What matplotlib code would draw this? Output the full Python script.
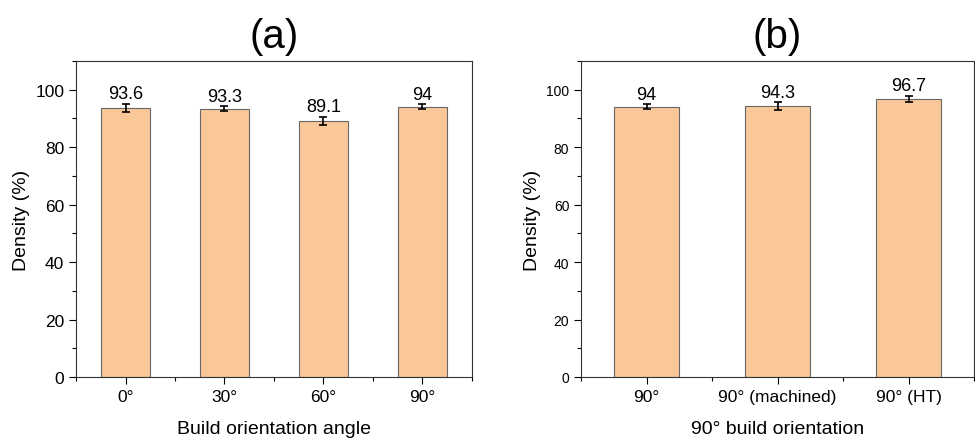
import numpy as np
import matplotlib
matplotlib.use('Agg')
import matplotlib.pyplot as plt
from matplotlib.ticker import MultipleLocator

plt.rcParams['font.family'] = ['Liberation Sans', 'DejaVu Sans']

# panel (a) data
angles = ['0°', '30°', '60°', '90°']
density_a = [93.6, 93.3, 89.1, 94]
err_a = [1.5, 0.9, 1.3, 0.9]

# panel (b) data
conditions = ['90°', '90° (machined)', '90° (HT)']
density_b = [94, 94.3, 96.7]
err_b = [0.9, 1.3, 1.1]

bar_color = '#FAC898'
edge_color = '#666666'


def draw_panel(ax, labels, values, errors, title, xlabel, ytick_size):
    x = np.arange(1, len(labels) + 1)
    ax.bar(x, values, width=0.5, color=bar_color, edgecolor=edge_color, linewidth=0.8)
    ax.errorbar(x, values, yerr=errors, fmt='none', ecolor='black',
                elinewidth=1.2, capsize=3, capthick=1.2)
    for xi, v, e in zip(x, values, errors):
        ax.text(xi, v + e + 0.6, f'{v:g}', ha='center', va='bottom', fontsize=13)

    ax.set_xlim(0.5, len(labels) + 0.5)
    ax.set_ylim(0, 110)
    ax.set_xticks(x)
    ax.set_xticklabels(labels)
    ax.set_xticks(np.arange(0.5, len(labels) + 1, 1), minor=True)
    ax.yaxis.set_major_locator(MultipleLocator(20))
    ax.yaxis.set_minor_locator(MultipleLocator(10))
    ax.tick_params(which='both', direction='out', width=0.8)
    ax.tick_params(axis='x', labelsize=12.5)
    ax.tick_params(axis='y', labelsize=ytick_size)
    ax.tick_params(which='major', length=5)
    ax.tick_params(which='minor', length=3)
    for s in ax.spines.values():
        s.set_linewidth(0.8)
        s.set_color('#333333')

    ax.set_ylabel('Density (%)', fontsize=14)
    ax.set_xlabel(xlabel, fontsize=14, labelpad=12)
    ax.set_title(title, fontsize=29, pad=10)


fig = plt.figure(figsize=(9.75, 4.39), dpi=100)
ax1 = fig.add_axes([0.078, 0.139, 0.406, 0.720])
ax2 = fig.add_axes([0.596, 0.139, 0.403, 0.720])

draw_panel(ax1, angles, density_a, err_a, '(a)', 'Build orientation angle', 12.5)
draw_panel(ax2, conditions, density_b, err_b, '(b)', '90° build orientation', 10)

fig.savefig('out.png', dpi=100)
